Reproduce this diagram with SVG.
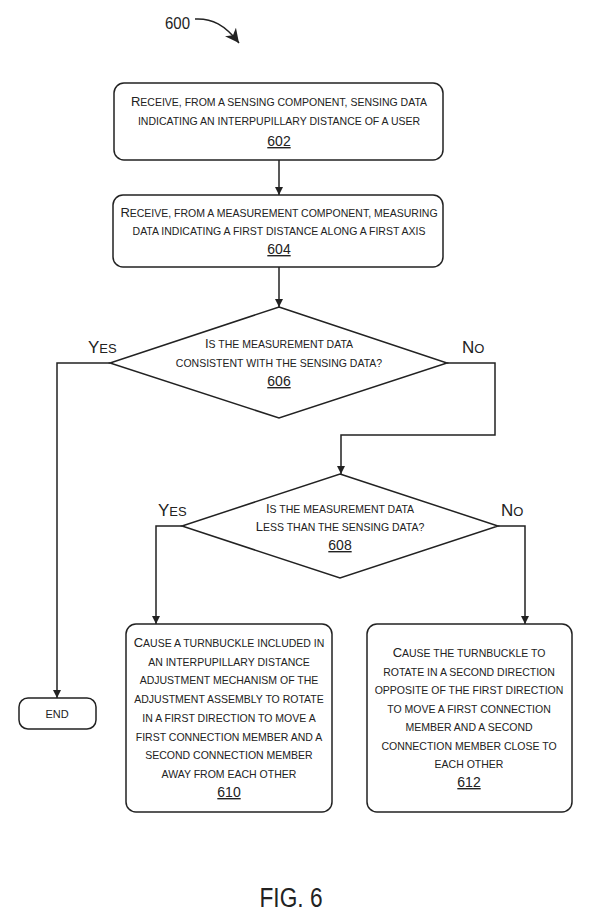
<svg xmlns="http://www.w3.org/2000/svg" width="609" height="919" viewBox="0 0 609 919">
<style>
.bg{fill:#fff}
.node{fill:#fff;stroke:#222;stroke-width:1.5}
.t{font-family:"Liberation Sans",Arial,sans-serif;font-size:10.5px;fill:#222;text-anchor:middle}
.b{font-size:13px}
.n{font-family:"Liberation Sans",Arial,sans-serif;font-size:14px;fill:#222;text-anchor:middle;text-decoration:underline}
.lbl{font-family:"Liberation Sans",Arial,sans-serif;font-size:13px;fill:#222}
.lb{font-size:17px}
.c{fill:none;stroke:#222;stroke-width:1.5}
</style>
<defs>
<marker id="ah" viewBox="0 0 10 10" refX="10" refY="5" markerWidth="8" markerHeight="8" markerUnits="userSpaceOnUse" orient="auto">
<path d="M0,0 L10,5 L0,10 z" fill="#222"/>
</marker>
<marker id="ah2" viewBox="0 0 10 10" refX="10" refY="5" markerWidth="14" markerHeight="14" markerUnits="userSpaceOnUse" orient="auto">
<path d="M0,0 L10,5 L0,10 L3,5 z" fill="#222"/>
</marker>
</defs>
<rect class="bg" width="609" height="919"/>

<g id="label600">
<text x="165" y="29" style="font-family:'Liberation Sans',Arial,sans-serif;font-size:17px;fill:#222" textLength="25" lengthAdjust="spacingAndGlyphs">600</text>
<path class="c" d="M195,19 C212,18 225,25 239,43" marker-end="url(#ah2)"/>
</g>

<g id="connectors">
<line class="c" x1="279" y1="160" x2="279" y2="195" marker-end="url(#ah)"/>
<line class="c" x1="279" y1="267" x2="279" y2="307" marker-end="url(#ah)"/>
<polyline class="c" points="110,363 57,363 57,698" marker-end="url(#ah)"/>
<polyline class="c" points="447,363 495,363 495,435 341,435 341,474" marker-end="url(#ah)"/>
<polyline class="c" points="182,526 156,526 156,624" marker-end="url(#ah)"/>
<polyline class="c" points="498,526 525,526 525,624" marker-end="url(#ah)"/>
<text class="lbl" x="88" y="353"><tspan class="lb">Y</tspan>ES</text>
<text class="lbl" x="462" y="353"><tspan class="lb">N</tspan>O</text>
<text class="lbl" x="158" y="516"><tspan class="lb">Y</tspan>ES</text>
<text class="lbl" x="501" y="516"><tspan class="lb">N</tspan>O</text>
</g>

<g id="n602">
<rect class="node" x="114" y="83" width="329" height="77" rx="10"/>
<text class="t" x="279" y="106"><tspan class="b">R</tspan>ECEIVE, FROM A SENSING COMPONENT, SENSING DATA</text>
<text class="t" x="279" y="125">INDICATING AN INTERPUPILLARY DISTANCE OF A USER</text>
<text class="n" x="279" y="146">602</text>
</g>

<g id="n604">
<rect class="node" x="113" y="195" width="330" height="72" rx="10"/>
<text class="t" x="279" y="217"><tspan class="b">R</tspan>ECEIVE, FROM A MEASUREMENT COMPONENT, MEASURING</text>
<text class="t" x="279" y="235">DATA INDICATING A FIRST DISTANCE ALONG A FIRST AXIS</text>
<text class="n" x="279" y="254">604</text>
</g>

<g id="n606">
<polygon class="node" points="279,307 447,363 279,418 110,363"/>
<text class="t" x="279" y="348"><tspan class="b">I</tspan>S THE MEASUREMENT DATA</text>
<text class="t" x="279" y="367">CONSISTENT WITH THE SENSING DATA?</text>
<text class="n" x="279" y="386">606</text>
</g>

<g id="n608">
<polygon class="node" points="340,474 498,526 340,578 182,526"/>
<text class="t" x="340" y="513"><tspan class="b">I</tspan>S THE MEASUREMENT DATA</text>
<text class="t" x="340" y="531"><tspan class="b">L</tspan>ESS THAN THE SENSING DATA?</text>
<text class="n" x="340" y="550">608</text>
</g>

<g id="nend">
<rect class="node" x="19" y="698" width="77" height="31" rx="9"/>
<text class="t" x="57" y="718" style="font-size:11px">END</text>
</g>

<g id="n610">
<rect class="node" x="126" y="624" width="206" height="188" rx="10"/>
<text class="t" x="229" y="647"><tspan class="b">C</tspan>AUSE A TURNBUCKLE INCLUDED IN</text>
<text class="t" x="229" y="666">AN INTERPUPILLARY DISTANCE</text>
<text class="t" x="229" y="684">ADJUSTMENT MECHANISM OF THE</text>
<text class="t" x="229" y="703">ADJUSTMENT ASSEMBLY TO ROTATE</text>
<text class="t" x="229" y="722">IN A FIRST DIRECTION TO MOVE A</text>
<text class="t" x="229" y="741">FIRST CONNECTION MEMBER AND A</text>
<text class="t" x="229" y="759">SECOND CONNECTION MEMBER</text>
<text class="t" x="229" y="778">AWAY FROM EACH OTHER</text>
<text class="n" x="229" y="797">610</text>
</g>

<g id="n612">
<rect class="node" x="367" y="624" width="205" height="188" rx="10"/>
<text class="t" x="469" y="657"><tspan class="b">C</tspan>AUSE THE TURNBUCKLE TO</text>
<text class="t" x="469" y="676">ROTATE IN A SECOND DIRECTION</text>
<text class="t" x="469" y="694">OPPOSITE OF THE FIRST DIRECTION</text>
<text class="t" x="469" y="713">TO MOVE A FIRST CONNECTION</text>
<text class="t" x="469" y="731">MEMBER AND A SECOND</text>
<text class="t" x="469" y="750">CONNECTION MEMBER CLOSE TO</text>
<text class="t" x="469" y="768">EACH OTHER</text>
<text class="n" x="469" y="787">612</text>
</g>

<text x="291" y="907" text-anchor="middle" textLength="63" lengthAdjust="spacingAndGlyphs" style="font-family:'Liberation Sans',Arial,sans-serif;font-size:27px;fill:#222">FIG. 6</text>
</svg>
